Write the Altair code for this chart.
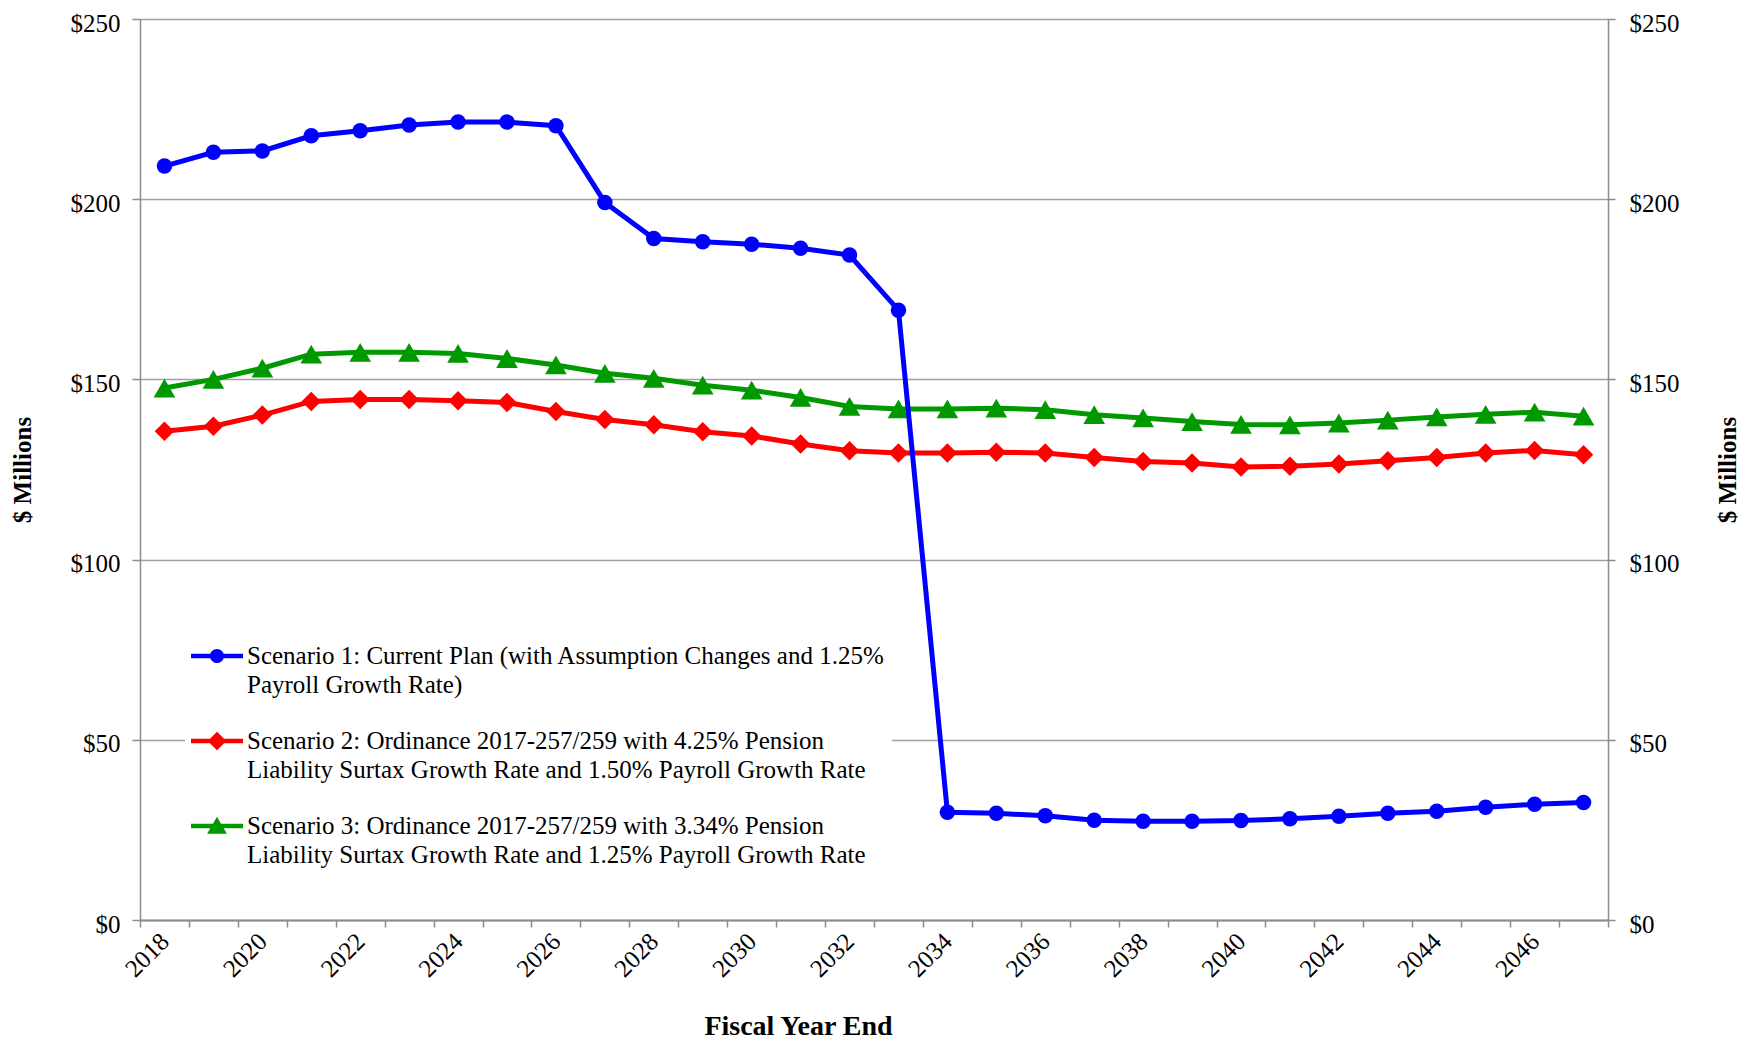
import altair as alt
import pandas as pd

# ---------------- data ----------------
years = list(range(2018, 2048))
scenario1 = [209.2, 213.0, 213.4, 217.6, 219.0, 220.6, 221.4, 221.4, 220.4,
             199.1, 189.1, 188.2, 187.5, 186.4, 184.5, 169.2,
             29.9, 29.6, 28.9, 27.7, 27.4, 27.4, 27.6, 28.1, 28.8, 29.6, 30.2, 31.3, 32.1, 32.6]
scenario2 = [135.6, 137.0, 140.1, 143.9, 144.4, 144.4, 144.1, 143.6, 141.1,
             138.9, 137.4, 135.5, 134.3, 132.1, 130.2, 129.6,
             129.6, 129.8, 129.6, 128.3, 127.2, 126.8, 125.7, 125.9, 126.5, 127.4, 128.3, 129.6, 130.3, 129.1]
scenario3 = [147.6, 150.0, 153.1, 157.0, 157.5, 157.5, 157.2, 155.8, 154.0,
             151.7, 150.3, 148.4, 147.0, 145.0, 142.5, 141.8,
             141.8, 142.0, 141.6, 140.2, 139.3, 138.3, 137.5, 137.4, 137.9, 138.7, 139.6, 140.3, 140.9, 139.8]

names = [
    "Scenario 1: Current Plan (with Assumption Changes and 1.25%|Payroll Growth Rate)",
    "Scenario 2: Ordinance 2017-257/259 with 4.25% Pension|Liability Surtax Growth Rate and 1.50% Payroll Growth Rate",
    "Scenario 3: Ordinance 2017-257/259 with 3.34% Pension|Liability Surtax Growth Rate and 1.25% Payroll Growth Rate",
]
label_years = list(range(2018, 2047, 2))
y_ticks = [0, 50, 100, 150, 200, 250]

colors = ["#0000FF", "#FF0000", "#009900"]
shapes = ["circle", "diamond", "triangle-up"]
sizes = [240, 380, 470]

series_values = [scenario1, scenario2, scenario3]
rows = []
for n, vals in zip(names, series_values):
    for yr, v in zip(years, vals):
        rows.append({"Year": yr, "Value": v, "Scenario": n})
df = pd.DataFrame(rows)

FONT = "Liberation Serif"
GRID = "#a0a0a0"
AXC = "#8c8c8c"

# legend symbols: a short line with the series marker on it
line_part = "M-1,-0.09H1V0.09H-1Z"
legend_paths = [
    line_part + "M-0.27,0A0.27,0.27,0,1,1,0.27,0A0.27,0.27,0,1,1,-0.27,0Z",
    line_part + "M0,-0.36L0.36,0L0,0.36L-0.36,0Z",
    line_part + "M0,-0.36L0.38,0.3L-0.38,0.3Z",
]

xscale = alt.Scale(domain=[2017.5, 2047.5], nice=False, zero=False)
yscale = alt.Scale(domain=[0, 250], nice=False)

PLOT_H = 901

# axis-only layers (invisible marks)
axis_a = alt.Chart(df).mark_line(opacity=0).encode(
    x=alt.X("Year:Q", scale=xscale, axis=alt.Axis(
        orient="bottom", values=[y - 0.5 for y in years] + [years[-1] + 0.5],
        labels=False, title=None, grid=False, ticks=True, tickSize=7,
        tickColor=AXC, tickWidth=1.5, domain=True, domainColor=AXC, domainWidth=2)),
    y=alt.Y("Value:Q", scale=yscale, axis=alt.Axis(
        orient="left", values=y_ticks, format="$.0f", grid=True, gridColor=GRID, gridWidth=1.5,
        domainColor=AXC, domainWidth=1.5, tickColor=AXC, tickWidth=1.5, tickSize=8,
        labelFont=FONT, labelFontSize=25, labelColor="black", labelPadding=12, labelOffset=4,
        title="$ Millions", titleFont=FONT, titleFontSize=25, titleFontWeight="bold",
        titleAngle=270, titleX=-118, titleY=PLOT_H / 2, titleAlign="center", titleBaseline="middle")),
    detail="Scenario:N",
)
axis_b = alt.Chart(df).mark_line(opacity=0).encode(
    x=alt.X("Year:Q", scale=xscale, axis=alt.Axis(
        orient="bottom", values=label_years, format="d", ticks=False, tickSize=0, domain=False, grid=False,
        labelAngle=315, labelAlign="right", labelBaseline="middle", labelPadding=17,
        labelFont=FONT, labelFontSize=25, labelColor="black", labelOverlap=False,
        title="Fiscal Year End", titleFont=FONT, titleFontSize=28, titleFontWeight="bold",
        titleX=658, titleY=114, titleAlign="center", titleBaseline="alphabetic")),
    y=alt.Y("Value:Q", scale=yscale, axis=alt.Axis(
        orient="right", values=y_ticks, format="$.0f", grid=False,
        domainColor=AXC, domainWidth=1.5, tickColor=AXC, tickWidth=1.5, tickSize=7,
        labelFont=FONT, labelFontSize=25, labelColor="black", labelPadding=14, labelOffset=4,
        title="$ Millions", titleFont=FONT, titleFontSize=25, titleFontWeight="bold",
        titleAngle=270, titleX=119, titleY=PLOT_H / 2, titleAlign="center", titleBaseline="middle")),
    detail="Scenario:N",
)

series_layers = []
for i in [2, 1, 0]:
    series_layers.append(
        alt.Chart(df).transform_filter(alt.datum.Scenario == names[i]).mark_line(
            strokeWidth=5, color=colors[i],
            point=alt.OverlayMarkDef(shape=shapes[i], size=sizes[i], filled=True, opacity=1, color=colors[i]),
        ).encode(
            x=alt.X("Year:Q", scale=xscale, axis=None),
            y=alt.Y("Value:Q", scale=yscale, axis=None),
        )
    )

legend_props = dict(
    orient="none", legendX=45, legendY=605, title=None,
    labelExpr="split(datum.label, '|')", labelFont=FONT, labelFontSize=25, labelColor="black",
    labelLimit=900, labelOffset=4, symbolSize=2704, symbolStrokeWidth=0, symbolOpacity=1,
    fillColor="white", padding=6, rowPadding=17, direction="vertical",
)
legend_layer = alt.Chart(pd.DataFrame({"Scenario": names})).transform_filter("false").mark_point(
    filled=True, opacity=1
).encode(
    color=alt.Color("Scenario:N", scale=alt.Scale(domain=names, range=colors),
                    legend=alt.Legend(**legend_props)),
    shape=alt.Shape("Scenario:N", scale=alt.Scale(domain=names, range=legend_paths),
                    legend=alt.Legend(**legend_props)),
)

chart = alt.layer(axis_a, axis_b, *series_layers, legend_layer).resolve_axis(
    x="independent", y="independent"
).properties(
    width=1468, height=PLOT_H,
    autosize=alt.AutoSizeParams(type="none"),
    padding={"left": 132, "top": 11, "right": 137, "bottom": 121},
    background="white",
).configure_view(stroke=None).configure(
    style={"guide-label": {"lineHeight": 29}}
)

chart.save("out.html", embed_options={"renderer": "svg", "actions": False})
